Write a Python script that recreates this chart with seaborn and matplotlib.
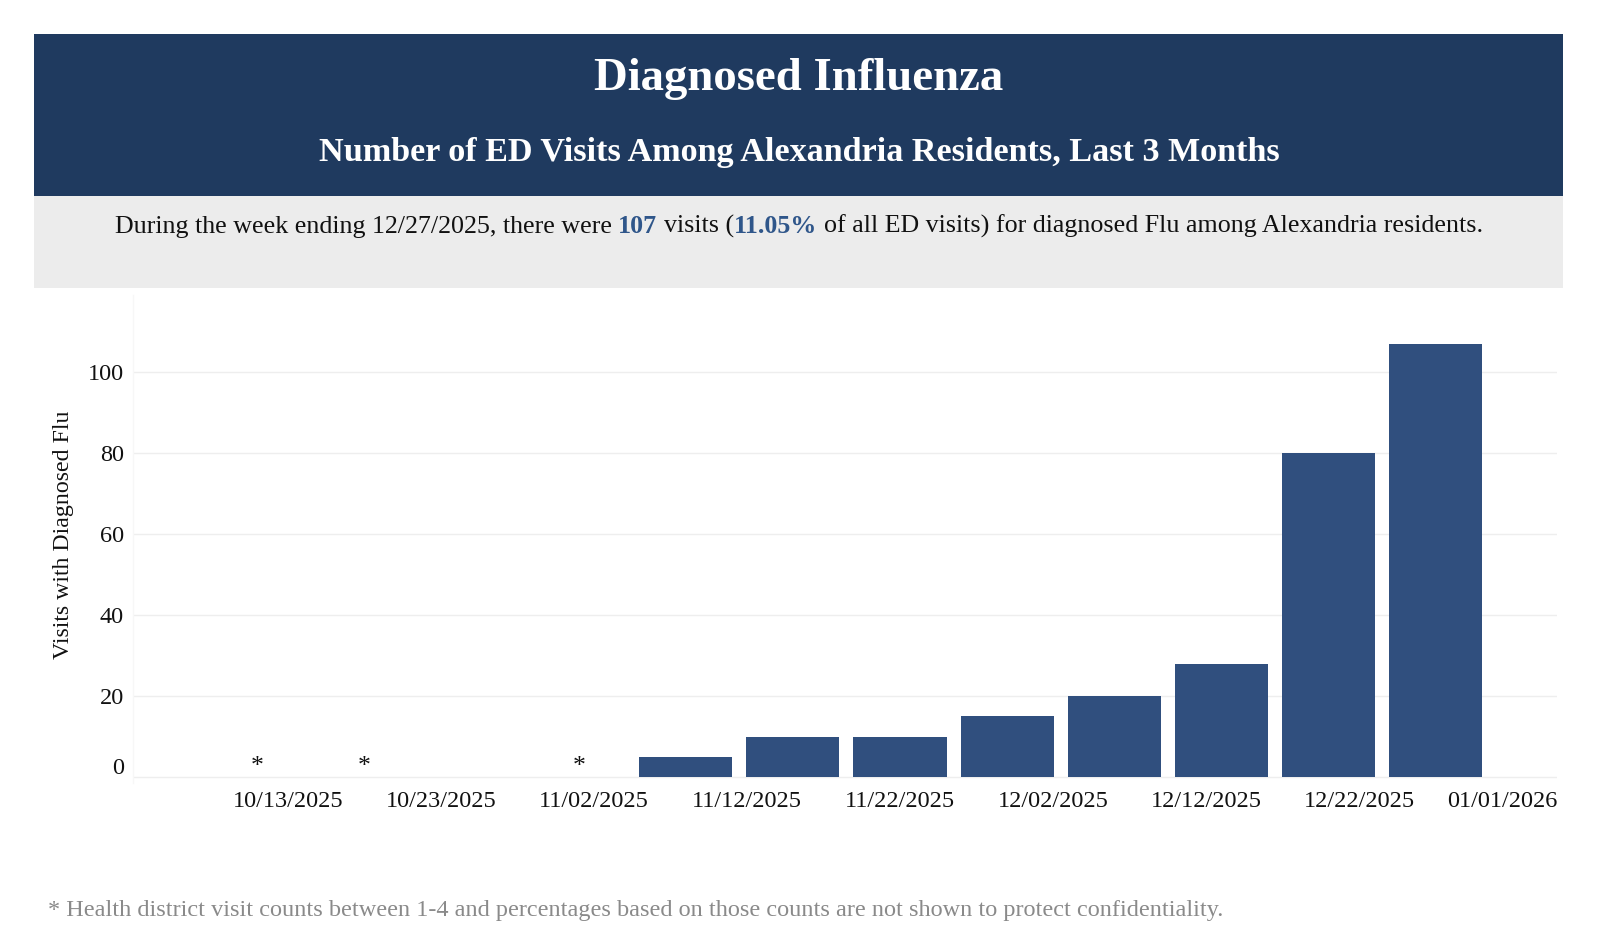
import numpy as np
import pandas as pd
import matplotlib
matplotlib.use("Agg")
import matplotlib.pyplot as plt
import matplotlib.dates as mdates
from matplotlib.patches import Rectangle
from matplotlib.transforms import ScaledTranslation
import seaborn as sns

# ---------------- data ----------------
week_ending = ["2025-10-11", "2025-10-18", "2025-10-25", "2025-11-01", "2025-11-08",
               "2025-11-15", "2025-11-22", "2025-11-29", "2025-12-06", "2025-12-13",
               "2025-12-20", "2025-12-27"]
# NaN = suppressed (1-4 visits)
visits = [np.nan, np.nan, 0, np.nan, 5, 10, 10, 15, 20, 28, 80, 107]
tick_dates = ["2025-10-13", "2025-10-23", "2025-11-02", "2025-11-12", "2025-11-22",
              "2025-12-02", "2025-12-12", "2025-12-22", "2026-01-01"]
tick_labels = ["10/13/2025", "10/23/2025", "11/02/2025", "11/12/2025", "11/22/2025",
               "12/02/2025", "12/12/2025", "12/22/2025", "01/01/2026"]
y_ticks = [0, 20, 40, 60, 80, 100]

title = "Diagnosed Influenza"
subtitle = "Number of ED Visits Among Alexandria Residents, Last 3 Months"
summary_parts = [
    ("During the week ending 12/27/2025, there were", False),
    ("107", True),
    ("visits (", False),
    ("11.05%", True),
    ("of all ED visits) for diagnosed Flu among Alexandria residents.", False),
]
summary_gaps = [True, True, False, True]
footnote = ("* Health district visit counts between 1-4 and percentages based on those "
            "counts are not shown to protect confidentiality.")
ylabel = "Visits with Diagnosed Flu"

# ---------------- style ----------------
sns.set_theme(style="white")
plt.rcParams["font.family"] = ["Liberation Serif", "DejaVu Serif"]

NAVY = "#1f3a5f"
BAR = "#304f7e"
BLUE = "#2f568a"
GRAY_BAND = "#ececec"

W, H = 1600, 934
fig = plt.figure(figsize=(W / 100, H / 100), dpi=100)
fig.patch.set_facecolor("white")


def fx(px):
    return px / W


def fy(py):
    return 1 - py / H


# header bands
fig.add_artist(Rectangle((fx(34), fy(196)), fx(1563) - fx(34), fy(34) - fy(196),
                         transform=fig.transFigure, facecolor=NAVY, edgecolor="none", zorder=0))
fig.add_artist(Rectangle((fx(34), fy(288)), fx(1563) - fx(34), fy(196) - fy(288),
                         transform=fig.transFigure, facecolor=GRAY_BAND, edgecolor="none", zorder=0))

fig.text(fx(799), fy(90), title, color="white", fontsize=33.7, fontweight="bold",
         ha="center", va="baseline")
fig.text(fx(799), fy(161), subtitle, color="white", fontsize=24.6, fontweight="bold",
         ha="center", va="baseline")

# ---------------- axes ----------------
ax = fig.add_axes([fx(133), 1 - 783 / H, 1424 / W, 488 / H])
df = pd.DataFrame({"week": mdates.date2num(pd.to_datetime(week_ending)), "visits": visits})
shown = df.dropna()
sns.barplot(data=shown, x="week", y="visits", native_scale=True, width=6.08 / 7,
            color=BAR, saturation=1, errorbar=None, linewidth=0, ax=ax, zorder=3)

# suppressed markers
for wk, v in zip(df["week"], df["visits"]):
    if np.isnan(v):
        ax.text(wk, 0.9, "*", ha="center", va="baseline", fontsize=18.5, color="#111111", zorder=4)

t0 = mdates.date2num(pd.Timestamp("2025-10-13"))
ax.set_xlim(t0 - 10.13, t0 + 82.94)
ax.set_ylim(-1.48, 119)

ax.set_xticks(mdates.date2num(pd.to_datetime(tick_dates)))
ax.set_xticklabels(tick_labels)
ax.set_yticks(y_ticks)
ax.set_yticklabels([str(v) for v in y_ticks])
ax.tick_params(axis="both", length=0, labelsize=17.5, colors="#111111")
ax.tick_params(axis="y", pad=6.5)
ax.tick_params(axis="x", pad=6)
ax.set_xlabel("")
ax.set_ylabel("")

ax.yaxis.grid(True, color="#eeeeee", linewidth=1, zorder=0)
ax.xaxis.grid(False)
ax.set_axisbelow(True)
for s in ["top", "right", "bottom"]:
    ax.spines[s].set_visible(False)
ax.spines["left"].set_color("#f7f7f7")
ax.spines["left"].set_linewidth(1)
ax.set_facecolor("white")

# nudge edge labels like the original
lbl0 = ax.get_yticklabels()[0]
lbl0.set_transform(lbl0.get_transform() + ScaledTranslation(0, 11 / 100, fig.dpi_scale_trans))
lbl_last = ax.get_xticklabels()[-1]
lbl_last.set_transform(lbl_last.get_transform() + ScaledTranslation(-10 / 100, 0, fig.dpi_scale_trans))

fig.text(fx(64), fy(535), ylabel, rotation=90, ha="center", va="center",
         fontsize=17.2, color="#111111")

# ---------------- summary sentence (mixed styles) ----------------
renderer = fig.canvas.get_renderer()
SFS = 18.7
tmp1 = fig.text(0, 0, "a a", fontsize=SFS)
tmp2 = fig.text(0, 0, "aa", fontsize=SFS)
space_w = tmp1.get_window_extent(renderer).width - tmp2.get_window_extent(renderer).width
tmp1.remove()
tmp2.remove()

widths = []
for txt, bold in summary_parts:
    t = fig.text(0, 0, txt, fontsize=SFS, fontweight="bold" if bold else "normal")
    widths.append(t.get_window_extent(renderer).width)
    t.remove()
total = sum(widths) + space_w * sum(summary_gaps)
x = 799 - total / 2
for i, ((txt, bold), w) in enumerate(zip(summary_parts, widths)):
    fig.text(fx(x), fy(233), txt, fontsize=SFS, fontweight="bold" if bold else "normal",
             color=BLUE if bold else "#111111", ha="left", va="baseline")
    x += w
    if i < len(summary_gaps) and summary_gaps[i]:
        x += space_w

fig.text(fx(48), fy(916), footnote, fontsize=17.5, color="#8a8a8a", ha="left", va="baseline")

fig.savefig("out.png", dpi=100, facecolor="white")
